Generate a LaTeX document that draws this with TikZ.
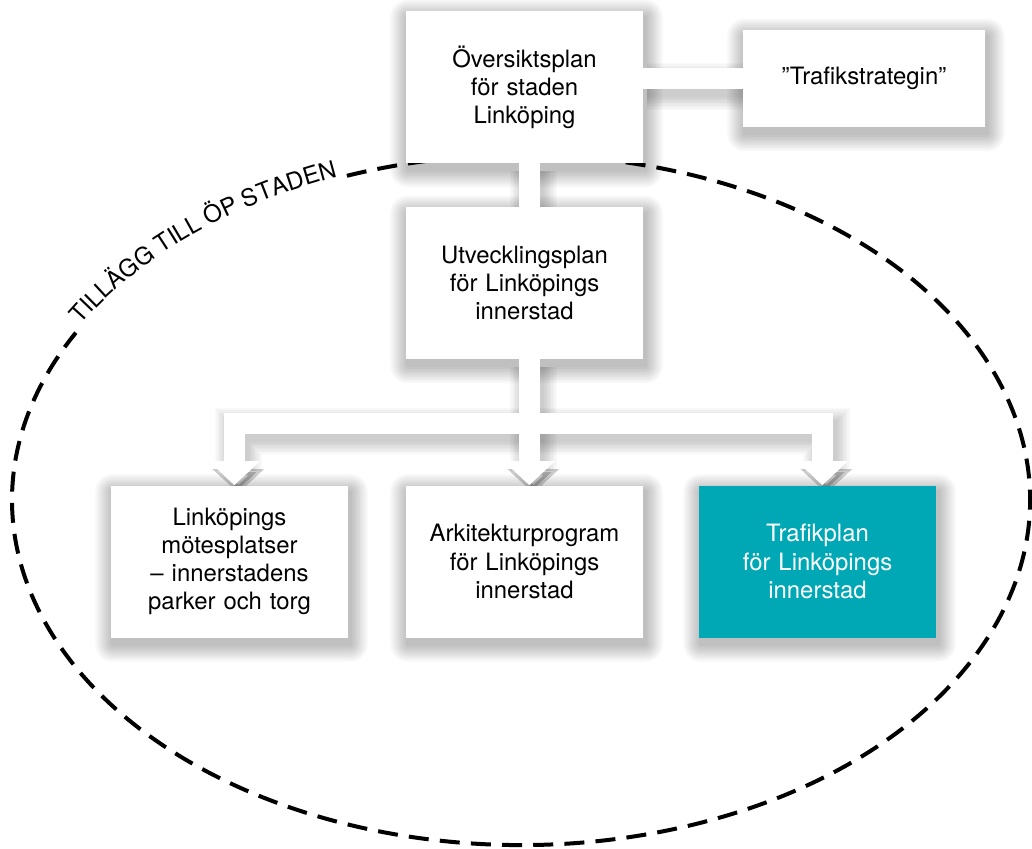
\documentclass[tikz,border=0pt]{standalone}
\usepackage{fontspec}
\setmainfont{TeX Gyre Heros}
\usepackage{xcolor}
\usetikzlibrary{positioning,calc,arrows.meta,decorations.text}

\definecolor{trafikteal}{RGB}{0,168,182}
\pgfdeclarelayer{background}
\pgfsetlayers{background,main}

\begin{document}
\begin{tikzpicture}[
    block/.style={rectangle, fill=white, minimum width=5.925cm, minimum height=3.8cm, text width=5.6cm, align=center, font=\fontsize{17}{20}\selectfont},
    hilite/.style={block, fill=trafikteal, text=white},
    boxshadow/.style={fill=black, opacity=0.022, rounded corners=#1},
    bar/.style={draw=white, line width=0.525cm},
    barshadow/.style={draw=black, opacity=0.02, line width=#1, transform canvas={shift={(0.1,-0.2)}}},
    tip/.style={-{Triangle[width=1.25cm, length=0.6cm]}},
    ring/.style={draw=black, line width=0.1cm, dash pattern=on 0.5cm off 0.28cm}
]
    \useasboundingbox (0,0) rectangle (25.8,-21.225);

    % Plan documents
    \node[block] (ovs) at (13.1125,-2.175) {Översiktsplan\\för staden\\Linköping};
    \node[block, minimum width=6.05cm, minimum height=2.425cm] (strat) at (21.6,-1.9625) {”Trafikstrategin”};
    \node[block] (utv) at (13.1125,-7.075) {Utvecklingsplan\\för Linköpings\\innerstad};
    \node[block] (mote) at (5.7375,-14.0375) {Linköpings\\mötesplatser\\– innerstadens\\parker och torg};
    \node[block] (ark) at (13.1125,-14.0375) {Arkitekturprogram\\för Linköpings\\innerstad};
    \node[hilite] (traf) at (20.4375,-14.0375) {Trafikplan\\för Linköpings\\innerstad};

    % Branch point of the lower connectors
    \coordinate (j) at ($(utv.south)+(0.12,-1.6)$);

    \begin{pgfonlayer}{background}
        \fill[white] (0,0) rectangle (25.8,-21.225);

        % Dashed ring, open where the label sits
        \draw[ring] (13.025,-12.5) ++(110:12.725cm and 8.625cm) arc[start angle=110, end angle=-209, x radius=12.725cm, y radius=8.625cm];
        \path[decorate, decoration={text along path, text align=center, raise=1pt, text={|\fontsize{17}{20}\selectfont|TILLÄGG TILL ÖP STADEN}}]
            (13.025,-12.5) ++(151:12.725cm and 8.625cm) arc[start angle=151, end angle=110, x radius=12.725cm, y radius=8.625cm];

        % Soft shadows under the boxes
        \foreach \n in {ovs,strat,utv,mote,ark,traf} {
            \foreach \s in {0.04,0.08,...,0.45} {
                \fill[boxshadow=\s cm] ($(\n.south west)+(0.05-\s,-0.16-\s)$) rectangle ($(\n.north east)+(0.05+\s,-0.16+\s)$);
            }
        }

        % Soft shadows under the connectors
        \foreach \w in {0.55,0.62,...,1.2} {
            \draw[barshadow=\w cm] (strat.west) -- (strat.west -| ovs.east);
            \draw[barshadow=\w cm] ([xshift=0.12cm]ovs.south) -- ([xshift=0.12cm]utv.north);
            \draw[barshadow=\w cm, tip] ([xshift=0.12cm]utv.south) -- ([xshift=0.12cm]ark.north);
            \draw[barshadow=\w cm, tip] (j) -| ([xshift=0.12cm]mote.north);
            \draw[barshadow=\w cm, tip] (j) -| ([xshift=0.12cm]traf.north);
        }

        % Connectors
        \draw[bar] (strat.west) -- (strat.west -| ovs.east);
        \draw[bar] ([xshift=0.12cm]ovs.south) -- ([xshift=0.12cm]utv.north);
        \draw[bar, tip] ([xshift=0.12cm]utv.south) -- ([xshift=0.12cm]ark.north);
        \draw[bar, tip] (j) -| ([xshift=0.12cm]mote.north);
        \draw[bar, tip] (j) -| ([xshift=0.12cm]traf.north);
    \end{pgfonlayer}
\end{tikzpicture}
\end{document}
